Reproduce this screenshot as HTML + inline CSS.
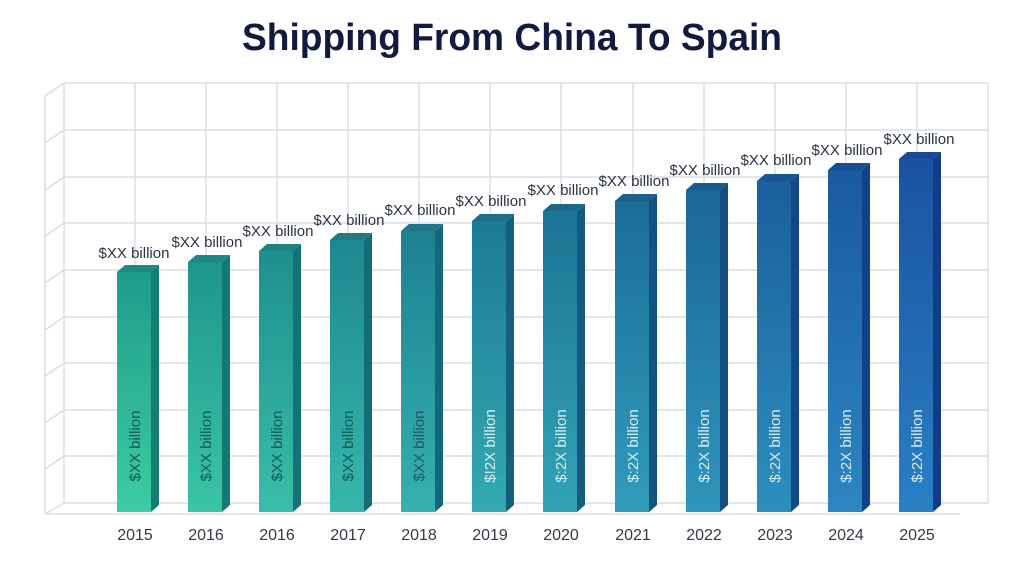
<!DOCTYPE html>
<html><head><meta charset="utf-8"><style>
html,body{margin:0;padding:0;background:#fff;}
svg{display:block;font-family:"Liberation Sans",sans-serif;}
</style></head><body>
<svg width="1024" height="576" viewBox="0 0 1024 576" xmlns="http://www.w3.org/2000/svg">
<defs>
<linearGradient id="g0" x1="0" y1="0" x2="0" y2="1"><stop offset="0" stop-color="rgb(30,156,138)"/><stop offset="1" stop-color="rgb(60,204,162)"/></linearGradient>
<linearGradient id="g1" x1="0" y1="0" x2="0" y2="1"><stop offset="0" stop-color="rgb(30,149,140)"/><stop offset="1" stop-color="rgb(58,197,165)"/></linearGradient>
<linearGradient id="g2" x1="0" y1="0" x2="0" y2="1"><stop offset="0" stop-color="rgb(29,143,142)"/><stop offset="1" stop-color="rgb(57,190,168)"/></linearGradient>
<linearGradient id="g3" x1="0" y1="0" x2="0" y2="1"><stop offset="0" stop-color="rgb(29,136,144)"/><stop offset="1" stop-color="rgb(55,183,171)"/></linearGradient>
<linearGradient id="g4" x1="0" y1="0" x2="0" y2="1"><stop offset="0" stop-color="rgb(29,129,146)"/><stop offset="1" stop-color="rgb(53,176,174)"/></linearGradient>
<linearGradient id="g5" x1="0" y1="0" x2="0" y2="1"><stop offset="0" stop-color="rgb(28,122,148)"/><stop offset="1" stop-color="rgb(52,169,177)"/></linearGradient>
<linearGradient id="g6" x1="0" y1="0" x2="0" y2="1"><stop offset="0" stop-color="rgb(28,116,150)"/><stop offset="1" stop-color="rgb(50,163,181)"/></linearGradient>
<linearGradient id="g7" x1="0" y1="0" x2="0" y2="1"><stop offset="0" stop-color="rgb(27,109,152)"/><stop offset="1" stop-color="rgb(49,156,184)"/></linearGradient>
<linearGradient id="g8" x1="0" y1="0" x2="0" y2="1"><stop offset="0" stop-color="rgb(27,102,154)"/><stop offset="1" stop-color="rgb(47,149,187)"/></linearGradient>
<linearGradient id="g9" x1="0" y1="0" x2="0" y2="1"><stop offset="0" stop-color="rgb(27,95,156)"/><stop offset="1" stop-color="rgb(45,142,190)"/></linearGradient>
<linearGradient id="g10" x1="0" y1="0" x2="0" y2="1"><stop offset="0" stop-color="rgb(26,89,158)"/><stop offset="1" stop-color="rgb(44,135,193)"/></linearGradient>
<linearGradient id="g11" x1="0" y1="0" x2="0" y2="1"><stop offset="0" stop-color="rgb(26,82,160)"/><stop offset="1" stop-color="rgb(42,128,196)"/></linearGradient>
</defs>
<rect width="1024" height="576" fill="#fff"/>
<text x="512" y="50" text-anchor="middle" font-size="38" font-weight="bold" fill="#121a3d" textLength="540" lengthAdjust="spacingAndGlyphs">Shipping From China To Spain</text>

<g stroke="#d8dde6" stroke-width="1.4" fill="none">
<path d="M64 83H988M64 130H988M64 177H988M64 223H988M64 270H988M64 317H988M64 363H988M64 410H988M64 456H988M64 503H988"/>
<path d="M64 83V503M135 83V503M206 83V503M277 83V503M348 83V503M419 83V503M490 83V503M561 83V503M633 83V503M704 83V503M775 83V503M846 83V503M917 83V503M988 83V503"/>
<path d="M45 96L64 83M45 143L64 130M45 190L64 177M45 236L64 223M45 283L64 270M45 330L64 317M45 376L64 363M45 423L64 410M45 469L64 456M45 514L64 503M45 96V514M45 514H960"/>
</g>

<g>
<g><rect x="117" y="272" width="34" height="240" fill="url(#g0)"/><polygon points="151,272 159,265 159,505 151,512" fill="rgb(22,125,115)"/><polygon points="117,272 125,265 159,265 151,272" fill="rgb(30,140,125)"/></g>
<g><rect x="188" y="262" width="34" height="250" fill="url(#g1)"/><polygon points="222,262 230,255 230,505 222,512" fill="rgb(20,120,115)"/><polygon points="188,262 196,255 230,255 222,262" fill="rgb(30,135,127)"/></g>
<g><rect x="259" y="251" width="34" height="261" fill="url(#g2)"/><polygon points="293,251 301,244 301,505 293,512" fill="rgb(20,115,118)"/><polygon points="259,251 267,244 301,244 293,251" fill="rgb(29,130,130)"/></g>
<g><rect x="330" y="240" width="34" height="272" fill="url(#g3)"/><polygon points="364,240 372,233 372,505 364,512" fill="rgb(20,108,120)"/><polygon points="330,240 338,233 372,233 364,240" fill="rgb(29,123,132)"/></g>
<g><rect x="401" y="231" width="34" height="281" fill="url(#g4)"/><polygon points="435,231 443,224 443,505 435,512" fill="rgb(20,102,122)"/><polygon points="401,231 409,224 443,224 435,231" fill="rgb(29,117,134)"/></g>
<g><rect x="472" y="221" width="34" height="291" fill="url(#g5)"/><polygon points="506,221 514,214 514,505 506,512" fill="rgb(19,96,124)"/><polygon points="472,221 480,214 514,214 506,221" fill="rgb(28,110,136)"/></g>
<g><rect x="543" y="211" width="34" height="301" fill="url(#g6)"/><polygon points="577,211 585,204 585,505 577,512" fill="rgb(19,90,126)"/><polygon points="543,211 551,204 585,204 577,211" fill="rgb(28,104,138)"/></g>
<g><rect x="615" y="201" width="34" height="311" fill="url(#g7)"/><polygon points="649,201 657,194 657,505 649,512" fill="rgb(18,84,128)"/><polygon points="615,201 623,194 657,194 649,201" fill="rgb(27,97,140)"/></g>
<g><rect x="686" y="190" width="34" height="322" fill="url(#g8)"/><polygon points="720,190 728,183 728,505 720,512" fill="rgb(18,78,130)"/><polygon points="686,190 694,183 728,183 720,190" fill="rgb(27,90,142)"/></g>
<g><rect x="757" y="181" width="34" height="331" fill="url(#g9)"/><polygon points="791,181 799,174 799,505 791,512" fill="rgb(18,72,132)"/><polygon points="757,181 765,174 799,174 791,181" fill="rgb(27,84,144)"/></g>
<g><rect x="828" y="170" width="34" height="342" fill="url(#g10)"/><polygon points="862,170 870,163 870,505 862,512" fill="rgb(17,66,134)"/><polygon points="828,170 836,163 870,163 862,170" fill="rgb(26,78,146)"/></g>
<g><rect x="899" y="159" width="34" height="353" fill="url(#g11)"/><polygon points="933,159 941,152 941,505 933,512" fill="rgb(17,60,136)"/><polygon points="899,159 907,152 941,152 933,159" fill="rgb(26,72,148)"/></g>
</g>

<g font-size="15" fill="#2a3340" text-anchor="middle">
<text x="134" y="258">$XX billion</text>
<text x="207" y="247">$XX billion</text>
<text x="278" y="236">$XX billion</text>
<text x="349" y="225">$XX billion</text>
<text x="420" y="215">$XX billion</text>
<text x="491" y="206">$XX billion</text>
<text x="563" y="195">$XX billion</text>
<text x="634" y="186">$XX billion</text>
<text x="705" y="175">$XX billion</text>
<text x="776" y="165">$XX billion</text>
<text x="847" y="155">$XX billion</text>
<text x="919" y="144">$XX billion</text>
</g>

<g font-size="15" text-anchor="middle">
<text transform="translate(140,446) rotate(-90)" fill="#145a55">$XX billion</text>
<text transform="translate(211,446) rotate(-90)" fill="#145a55">$XX billion</text>
<text transform="translate(282,446) rotate(-90)" fill="#145a55">$XX billion</text>
<text transform="translate(353,446) rotate(-90)" fill="#145a55">$XX billion</text>
<text transform="translate(424,446) rotate(-90)" fill="#1d5a6a">$XX billion</text>
<text transform="translate(495,446) rotate(-90)" fill="#d8eef2">$!2X billion</text>
<text transform="translate(566,446) rotate(-90)" fill="#d8eef5">$:2X billion</text>
<text transform="translate(638,446) rotate(-90)" fill="#d8eef5">$:2X billion</text>
<text transform="translate(709,446) rotate(-90)" fill="#d8eef5">$:2X billion</text>
<text transform="translate(780,446) rotate(-90)" fill="#d8eef5">$:2X billion</text>
<text transform="translate(851,446) rotate(-90)" fill="#d8eef5">$:2X billion</text>
<text transform="translate(922,446) rotate(-90)" fill="#d8eef5">$:2X billion</text>
</g>

<g font-size="16" fill="#333a44" text-anchor="middle">
<text x="135" y="540">2015</text>
<text x="206" y="540">2016</text>
<text x="277" y="540">2016</text>
<text x="348" y="540">2017</text>
<text x="419" y="540">2018</text>
<text x="490" y="540">2019</text>
<text x="561" y="540">2020</text>
<text x="633" y="540">2021</text>
<text x="704" y="540">2022</text>
<text x="775" y="540">2023</text>
<text x="846" y="540">2024</text>
<text x="917" y="540">2025</text>
</g>
</svg>
</body></html>
